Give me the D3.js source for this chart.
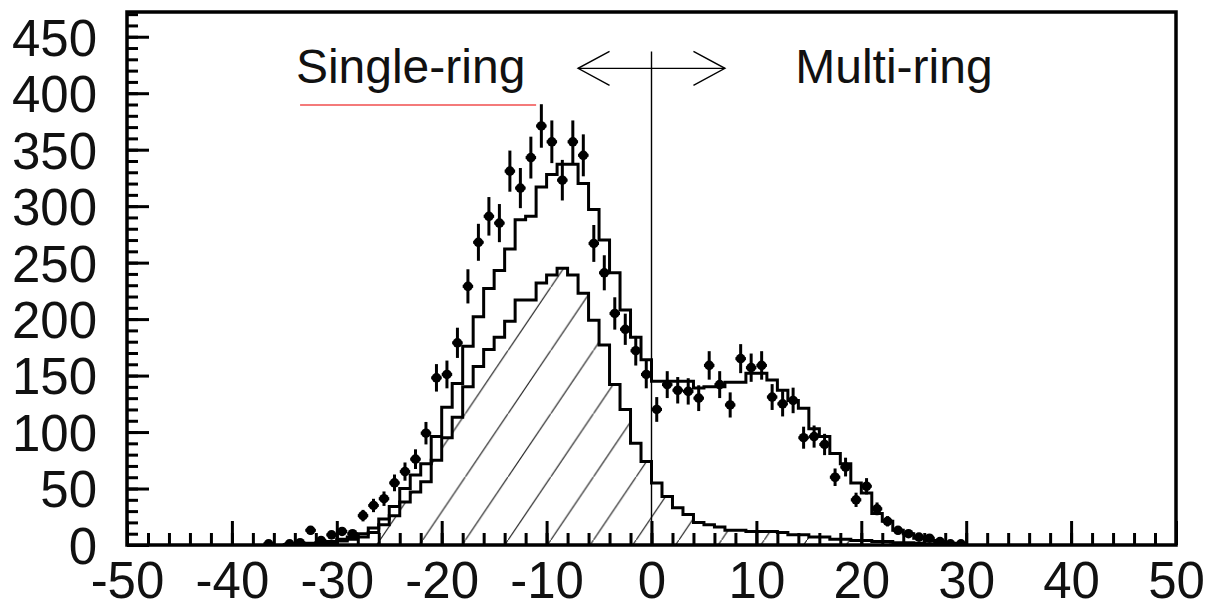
<!DOCTYPE html>
<html><head><meta charset="utf-8">
<script src="https://cdn.jsdelivr.net/npm/d3@7"></script>
<style>
body{margin:0;background:#fff}
svg{display:block}
text{font-family:"Liberation Sans",Arial,Helvetica,sans-serif;fill:#111}
</style>
</head><body><svg id="c" width="1206" height="603"></svg>
<script>
// ---- data ----
const xMajorTicks = [-50,-40,-30,-20,-10,0,10,20,30,40,50];
const yMajorTicks = [0,50,100,150,200,250,300,350,400,450];
const labelSingle = "Single-ring";
const labelMulti = "Multi-ring";

// MC histograms: bins of width 1, left edges from -35 to 29
const mcBinLeft = d3.range(-35, 30);
const mcTotal = [0.5,1,1.5,2,3,5,7,10,15,23,34,50,62,72,96,122,143,176,202,227,243,262,288,291,317,328,337,337,320,297,270,241,208,184,164,
  145,145,145,145,139,140,140,144,144,152,152,146,137,128,121,103,96,81,72,55,46,28,21,13,10,6,4,2.5,1.5,1];
const mcSingle = [0.2,0.5,1,1.5,2,3.5,5,7,11,18,26,38,47,56,75,95,113,140,158,173,184,198,217,217,232,239,245,239,223,199,177,142,120,90,74,
  55,43,33,27,20,18,16,13,13,12,12,12,11,9,9,7,7,5,5,4,4,3,3,2,2,1.5,1,1,0.5,0.5];

// data points (bin centres)
const dataX = d3.range(-37.5, 30, 1);
const dataY = [0,1,0,1,2,13,4,9,12,10,26,35,41,55,65,76,99,148,151,179,229,268,291,285,331,316,343,371,357,323,357,345,267,241,205,191,172,151,
  120,142,137,136,130,159,142,124,165,157,159,131,125,128,95,96,89,60,69,40,52,32,21,13,10,7,6,3,1,1];

// ---- layout ----
const svg = d3.select("#c");
const L = 127, R = 1176, T = 12, B = 545;
const x = d3.scaleLinear([-50, 50], [L, R]);
const y = d3.scaleLinear([0, 471.9], [B, T]);

const defs = svg.append("defs");
defs.append("clipPath").attr("id","clip").append("rect")
  .attr("x",L).attr("y",T).attr("width",R-L).attr("height",B-T);
const hw = 42.7, hh = 63.2;
const pat = defs.append("pattern").attr("id","hatch").attr("patternUnits","userSpaceOnUse")
  .attr("width",hw).attr("height",hh).attr("patternTransform","translate(380,540)");
pat.append("line").attr("x1",-1).attr("y1",hh+1.48).attr("x2",hw+1).attr("y2",-1.48)
  .attr("stroke","#222").attr("stroke-width",1.2);

const g = svg.append("g").attr("clip-path","url(#clip)");

// histogram step points
function stepPts(vals){
  const pts = [[mcBinLeft[0], 0]];
  mcBinLeft.forEach((l,i)=>pts.push([l, vals[i]]));
  const lastR = mcBinLeft[mcBinLeft.length-1] + 1;
  pts.push([lastR, vals[vals.length-1]]);
  pts.push([lastR, 0]);
  return pts;
}
const line = d3.line().x(d=>x(d[0])).y(d=>y(d[1])).curve(d3.curveStepAfter);
const area = d3.area().x(d=>x(d[0])).y0(y(0)).y1(d=>y(d[1])).curve(d3.curveStepAfter);

g.append("path").attr("d", area(stepPts(mcSingle))).attr("fill","url(#hatch)");
g.append("path").attr("d", line(stepPts(mcSingle))).attr("fill","none").attr("stroke","#000").attr("stroke-width",3);
g.append("path").attr("d", line(stepPts(mcTotal))).attr("fill","none").attr("stroke","#000").attr("stroke-width",3);

// vertical separator and arrow
g.append("line").attr("x1",x(0)).attr("x2",x(0)).attr("y1",y(437)).attr("y2",y(0))
  .attr("stroke","#000").attr("stroke-width",1.4);
svg.append("line").attr("x1",x(-7)).attr("x2",x(7)).attr("y1",y(422)).attr("y2",y(422))
  .attr("stroke","#000").attr("stroke-width",1.4);
svg.append("path").attr("d", d3.line()([[x(-4),y(437)],[x(-7),y(422)],[x(-4),y(407)]]))
  .attr("fill","none").attr("stroke","#000").attr("stroke-width",1.4);
svg.append("path").attr("d", d3.line()([[x(4),y(437)],[x(7),y(422)],[x(4),y(407)]]))
  .attr("fill","none").attr("stroke","#000").attr("stroke-width",1.4);

// data points with errors
const pts = dataX.map((v,i)=>({x:v, y:dataY[i]})).filter(d=>d.y>0);
const pg = g.append("g");
pg.selectAll(".ev").data(pts).join("line")
  .attr("x1",d=>x(d.x)).attr("x2",d=>x(d.x))
  .attr("y1",d=>y(d.y+Math.sqrt(d.y))).attr("y2",d=>y(Math.max(0,d.y-Math.sqrt(d.y))))
  .attr("stroke","#000").attr("stroke-width",3);
pg.selectAll(".eh").data(pts).join("line")
  .attr("x1",d=>x(d.x-0.5)).attr("x2",d=>x(d.x+0.5))
  .attr("y1",d=>y(d.y)).attr("y2",d=>y(d.y))
  .attr("stroke","#000").attr("stroke-width",3);
pg.selectAll("circle").data(pts).join("circle")
  .attr("cx",d=>x(d.x)).attr("cy",d=>y(d.y)).attr("r",4.8).attr("fill","#000");

// labels
svg.append("text").attr("x",x(-33.9)).attr("y",y(409)).attr("font-size",48).text(labelSingle);
svg.append("text").attr("x",x(13.7)).attr("y",y(409)).attr("font-size",48).text(labelMulti);
svg.append("line").attr("x1",x(-33.5)).attr("x2",x(-11)).attr("y1",y(389.5)).attr("y2",y(389.5))
  .attr("stroke","#f47a7a").attr("stroke-width",2);

// axes
const fmt = d => String(d);
const yAx = svg.append("g").attr("transform",`translate(${L},0)`)
  .call(d3.axisLeft(y).tickValues(yMajorTicks).tickFormat(fmt).tickSizeInner(-22).tickSizeOuter(0).tickPadding(30));
const yMin = svg.append("g").attr("transform",`translate(${L},0)`)
  .call(d3.axisLeft(y).tickValues(d3.range(0,471,10)).tickSizeInner(-11).tickSizeOuter(0).tickFormat(""));
const xAx = svg.append("g").attr("transform",`translate(0,${B})`)
  .call(d3.axisBottom(x).tickValues(xMajorTicks).tickFormat(fmt).tickSizeInner(-24).tickSizeOuter(0).tickPadding(17));
const xMin = svg.append("g").attr("transform",`translate(0,${B})`)
  .call(d3.axisBottom(x).tickValues(d3.range(-50,51,2)).tickSizeInner(-12).tickSizeOuter(0).tickFormat(""));
[yAx,yMin,xAx,xMin].forEach(a=>{
  a.select(".domain").remove();
  a.selectAll(".tick line").attr("stroke","#000").attr("stroke-width",3);
  a.selectAll("text").attr("font-size",51).attr("font-family","Liberation Sans, Arial, sans-serif").attr("fill","#111");
});
yAx.selectAll("text").attr("dy","0.36em");

// frame
svg.append("rect").attr("x",L).attr("y",T).attr("width",R-L).attr("height",B-T)
  .attr("fill","none").attr("stroke","#000").attr("stroke-width",3.5);
</script>
</body></html>
